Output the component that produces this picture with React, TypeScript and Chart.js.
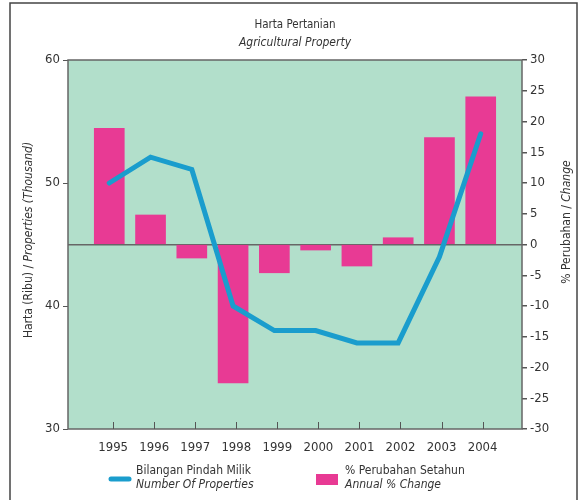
import React, { useEffect, useRef } from "react";
import { Chart, registerables } from "chart.js";

Chart.register(...registerables);

const years = [1995, 1996, 1997, 1998, 1999, 2000, 2001, 2002, 2003, 2004];
const properties = [50.0, 52.1, 51.1, 40.0, 38.0, 38.0, 37.0, 37.0, 44.0, 54.0];
const annualChange = [18.9, 4.8, -2.2, -22.5, -4.6, -0.9, -3.5, 1.1, 17.4, 24.0];
const leftTicks = [30, 40, 50, 60];
const rightTicks = [-30, -25, -20, -15, -10, -5, 0, 5, 10, 15, 20, 25, 30];

const titleMain = "Harta Pertanian";
const titleSub = "Agricultural Property";
const leftTitleA = "Harta (Ribu) / ";
const leftTitleB = "Properties (Thousand)";
const rightTitleA = "% Perubahan / ";
const rightTitleB = "Change";
const legendLineA = "Bilangan Pindah Milik";
const legendLineB = "Number Of Properties";
const legendBarA = "% Perubahan Setahun";
const legendBarB = "Annual % Change";

const FONT = "'Liberation Sans Narrow', 'DejaVu Sans Condensed', 'Roboto Condensed', Arial, sans-serif";
const BG = "#b2dfcb";
const PINK = "#e83a94";
const BLUE = "#1a9dcd";
const AXIS = "#666666";
const TEXT = "#333333";

const decorPlugin = {
  id: "decor",
  beforeDraw(chart: any) {
    const { ctx, chartArea: a } = chart;
    ctx.save();
    ctx.fillStyle = "#ffffff";
    ctx.fillRect(0, 0, chart.width, chart.height);
    ctx.fillStyle = BG;
    ctx.fillRect(a.left, a.top, a.right - a.left, a.bottom - a.top);
    ctx.restore();
  },
  afterDraw(chart: any) {
    const { ctx, chartArea: a } = chart;
    ctx.save();
    // outer frame
    ctx.strokeStyle = "#444";
    ctx.lineWidth = 1.5;
    ctx.strokeRect(10, 3, 567, 520);
    // plot border
    ctx.strokeStyle = AXIS;
    ctx.lineWidth = 1.5;
    ctx.strokeRect(a.left, a.top, a.right - a.left, a.bottom - a.top);
    // inward bottom tick marks
    const x2 = chart.scales.x2;
    ctx.strokeStyle = "#555";
    ctx.lineWidth = 1;
    years.forEach((yr) => {
      const px = Math.round(x2.getPixelForValue(yr)) + 0.5;
      ctx.beginPath();
      ctx.moveTo(px, a.bottom);
      ctx.lineTo(px, a.bottom - 7);
      ctx.stroke();
    });
    // titles
    ctx.fillStyle = TEXT;
    ctx.textAlign = "center";
    ctx.textBaseline = "middle";
    const cx = (a.left + a.right) / 2;
    ctx.font = `11.5px ${FONT}`;
    ctx.fillText(titleMain, cx, 25);
    ctx.font = `italic 12px ${FONT}`;
    ctx.fillText(titleSub, cx, 43);

    const drawRotated = (a1: string, b1: string, x: number, y: number) => {
      ctx.save();
      ctx.translate(x, y);
      ctx.rotate(-Math.PI / 2);
      ctx.font = `12px ${FONT}`;
      const wa = ctx.measureText(a1).width;
      ctx.font = `italic 12px ${FONT}`;
      const wb = ctx.measureText(b1).width;
      const start = -(wa + wb) / 2;
      ctx.textAlign = "left";
      ctx.font = `12px ${FONT}`;
      ctx.fillText(a1, start, 0);
      ctx.font = `italic 12px ${FONT}`;
      ctx.fillText(b1, start + wa, 0);
      ctx.restore();
    };
    drawRotated(leftTitleA, leftTitleB, 29, 240);
    drawRotated(rightTitleA, rightTitleB, 567, 222);

    // legend
    ctx.strokeStyle = BLUE;
    ctx.lineWidth = 5;
    ctx.lineCap = "round";
    ctx.beginPath();
    ctx.moveTo(111, 479);
    ctx.lineTo(129, 479);
    ctx.stroke();
    ctx.fillStyle = PINK;
    ctx.fillRect(316, 474, 22, 11);
    ctx.fillStyle = TEXT;
    ctx.textAlign = "left";
    ctx.font = `12px ${FONT}`;
    ctx.fillText(legendLineA, 136, 471);
    ctx.fillText(legendBarA, 345, 471);
    ctx.font = `italic 12px ${FONT}`;
    ctx.fillText(legendLineB, 136, 485);
    ctx.fillText(legendBarB, 345, 485);
    ctx.restore();
  },
};

export default function App() {
  const ref = useRef<HTMLCanvasElement | null>(null);
  useEffect(() => {
    if (!ref.current) return;
    const chart = new Chart(ref.current, {
      type: "bar",
      data: {
        datasets: [
          {
            type: "line",
            label: legendLineB,
            data: years.map((y, i) => ({ x: y, y: properties[i] })),
            borderColor: BLUE,
            borderWidth: 5,
            pointRadius: 0,
            borderCapStyle: "round",
            borderJoinStyle: "miter",
            tension: 0,
            xAxisID: "x",
            yAxisID: "y",
            order: 0,
          } as any,
          {
            type: "bar",
            label: legendBarB,
            data: years.map((y, i) => ({ x: y, y: annualChange[i] })),
            backgroundColor: PINK,
            borderWidth: 0,
            barThickness: 30,
            xAxisID: "x",
            yAxisID: "y1",
            order: 1,
          } as any,
        ],
      },
      plugins: [decorPlugin],
      options: {
        animation: false,
        responsive: false,
        layout: { padding: { top: 60, left: 0, right: 0, bottom: 0 } },
        plugins: { legend: { display: false }, tooltip: { enabled: false }, title: { display: false } },
        scales: {
          x: { type: "linear", min: 1994, max: 2005, display: false, offset: false, grid: { offset: false } },
          x2: {
            type: "linear",
            position: "bottom",
            min: 1993.9,
            max: 2004.96,
            offset: false,
            afterBuildTicks: (s: any) => { s.ticks = years.map((v) => ({ value: v })); },
            afterFit: (s: any) => { s.height = 71; },
            grid: { display: false, offset: false },
            border: { display: false },
            ticks: { color: TEXT, font: { family: FONT, size: 13 }, padding: 3, maxRotation: 0, autoSkip: false, callback: (v: any) => String(v) },
          },
          y: {
            type: "linear",
            position: "left",
            min: 30,
            max: 60,
            afterBuildTicks: (s: any) => { s.ticks = leftTicks.map((v) => ({ value: v })); },
            afterFit: (s: any) => { s.width = 68; },
            grid: { drawOnChartArea: false, tickLength: 5, color: "#555", tickColor: "#555" },
            border: { display: false },
            ticks: { color: TEXT, font: { family: FONT, size: 13 }, padding: 3 },
          },
          y1: {
            type: "linear",
            position: "right",
            min: -30,
            max: 30,
            afterBuildTicks: (s: any) => { s.ticks = rightTicks.map((v) => ({ value: v })); },
            afterFit: (s: any) => { s.width = 64; },
            grid: {
              drawOnChartArea: true,
              tickLength: 5,
              lineWidth: 1.5,
              color: (c: any) => (c.tick && c.tick.value === 0 ? AXIS : "rgba(0,0,0,0)"),
              tickColor: "#555",
            },
            border: { display: false },
            ticks: { color: TEXT, font: { family: FONT, size: 13 }, padding: 3 },
          },
        },
      } as any,
    });
    return () => chart.destroy();
  }, []);
  return (
    <div style={{ position: "absolute", left: 0, top: 0, width: 586, height: 500 }}>
      <canvas ref={ref} width={586} height={500} />
    </div>
  );
}
